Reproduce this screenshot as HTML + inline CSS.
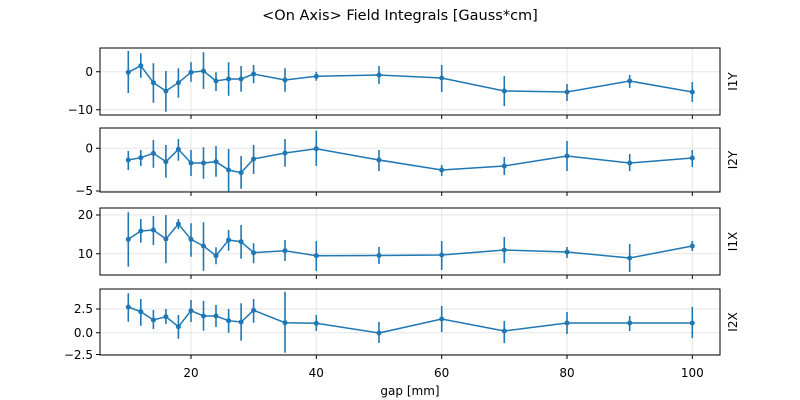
<!DOCTYPE html>
<html><head><meta charset="utf-8"><style>body{margin:0;background:#fff}svg{display:block}text{font-family:"DejaVu Sans","Liberation Sans",sans-serif;fill:#000}</style></head><body>
<svg width="800" height="400" viewBox="0 0 800 400" xmlns="http://www.w3.org/2000/svg">
<text x="400" y="20" font-size="14.5" text-anchor="middle">&lt;On Axis&gt; Field Integrals [Gauss*cm]</text>
<g stroke="#e6e6e6" stroke-width="1">
<line x1="191" y1="48" x2="191" y2="115"/><line x1="316.3" y1="48" x2="316.3" y2="115"/><line x1="441.7" y1="48" x2="441.7" y2="115"/><line x1="567" y1="48" x2="567" y2="115"/><line x1="692.3" y1="48" x2="692.3" y2="115"/>
<line x1="100" y1="71.7" x2="720" y2="71.7"/><line x1="100" y1="109.7" x2="720" y2="109.7"/>
<line x1="191" y1="128" x2="191" y2="192"/><line x1="316.3" y1="128" x2="316.3" y2="192"/><line x1="441.7" y1="128" x2="441.7" y2="192"/><line x1="567" y1="128" x2="567" y2="192"/><line x1="692.3" y1="128" x2="692.3" y2="192"/>
<line x1="100" y1="148.3" x2="720" y2="148.3"/><line x1="100" y1="191" x2="720" y2="191"/>
<line x1="191" y1="208" x2="191" y2="275"/><line x1="316.3" y1="208" x2="316.3" y2="275"/><line x1="441.7" y1="208" x2="441.7" y2="275"/><line x1="567" y1="208" x2="567" y2="275"/><line x1="692.3" y1="208" x2="692.3" y2="275"/>
<line x1="100" y1="215" x2="720" y2="215"/><line x1="100" y1="253.7" x2="720" y2="253.7"/>
<line x1="191" y1="289" x2="191" y2="355"/><line x1="316.3" y1="289" x2="316.3" y2="355"/><line x1="441.7" y1="289" x2="441.7" y2="355"/><line x1="567" y1="289" x2="567" y2="355"/><line x1="692.3" y1="289" x2="692.3" y2="355"/>
<line x1="100" y1="309" x2="720" y2="309"/><line x1="100" y1="332.7" x2="720" y2="332.7"/><line x1="100" y1="354.5" x2="720" y2="354.5"/>
</g>
<g fill="none" stroke="#000" stroke-width="1">
<rect x="100" y="48" width="620" height="67"/><rect x="100" y="128" width="620" height="64"/><rect x="100" y="208" width="620" height="67"/><rect x="100" y="289" width="620" height="66"/>
<path d="M96 71.7H100M96 109.7H100M96 148.3H100M96 191H100M96 215H100M96 253.7H100M96 309H100M96 332.7H100M96 354.5H100"/>
<path d="M191 115v4M316.3 115v4M441.7 115v4M567 115v4M692.3 115v4M191 192v4M316.3 192v4M441.7 192v4M567 192v4M692.3 192v4M191 275v4M316.3 275v4M441.7 275v4M567 275v4M692.3 275v4M191 355v4M316.3 355v4M441.7 355v4M567 355v4M692.3 355v4"/>
</g>
<g font-size="12" text-anchor="end">
<text x="93" y="76">0</text><text x="93" y="114">−10</text>
<text x="93" y="152.5">0</text><text x="93" y="195">−5</text>
<text x="93" y="219">20</text><text x="93" y="258">10</text>
<text x="93" y="313">2.5</text><text x="93" y="337">0.0</text><text x="93" y="359">−2.5</text>
</g>
<g font-size="12" text-anchor="middle">
<text x="191" y="377">20</text><text x="316.3" y="377">40</text><text x="441.7" y="377">60</text><text x="567" y="377">80</text><text x="692.3" y="377">100</text>
<text x="410" y="395">gap [mm]</text>
</g>
<g font-size="12" text-anchor="middle">
<text transform="translate(737,81.5) rotate(-90)">I1Y</text>
<text transform="translate(737,160) rotate(-90)">I2Y</text>
<text transform="translate(737,241.5) rotate(-90)">I1X</text>
<text transform="translate(737,322) rotate(-90)">I2X</text>
</g>
<g stroke="#1f77b4" stroke-width="1.6" fill="none">
<path d="M128.3 51V93M140.8 53.3V77.7M153.4 63.3V102.7M165.9 71V111.7M178.4 68.3V97.7M191 62.3V81.7M203.5 52.3V89M216 72.3V91M228.6 62.3V95.7M241.1 66V91.7M253.6 65V83.3M285 68.3V91.7M316.3 71.7V80.7M379 66V84M441.7 65V92M504.3 76V106M567 84V101M629.7 75V88M692.3 82V102"/>
<path d="M128.3 151V170M140.8 150V166M153.4 140V167.7M165.9 145V177.7M178.4 139V160.7M191 150V176M203.5 147.3V178.7M216 146V176.7M228.6 149V191.7M241.1 156V188.7M253.6 145V174M285 139V166.7M316.3 130.7V166M379 150V171M441.7 165V176M504.3 157V175M567 141V171M629.7 154V171M692.3 150V167"/>
<path d="M128.3 212.3V266.7M140.8 219V242.7M153.4 216V245M165.9 215V263.3M178.4 219V229.3M191 223.3V256.7M203.5 222.3V270.7M216 247.3V264.3M228.6 230V250.7M241.1 225V258.7M253.6 243.3V263.3M285 240V261M316.3 241V271M379 247V264M441.7 241V270M504.3 237V263M567 247V258M629.7 244V272M692.3 241V251"/>
<path d="M128.3 293.3V321.7M140.8 299V325.7M153.4 310V329M165.9 309V324M178.4 315V338.7M191 300V322M203.5 301V330.7M216 305V327M228.6 309V332.7M241.1 303.3V340.7M253.6 299V322.7M285 291.7V352.7M316.3 315V331M379 322V343M441.7 306V332M504.3 321V343M567 312V334M629.7 316V331M692.3 307V338"/>
<g stroke-width="1.5">
<polyline points="128.3,72.3 140.8,65.7 153.4,82.7 165.9,91 178.4,82.7 191,72.3 203.5,71 216,81 228.6,79 241.1,79 253.6,74 285,80 316.3,76.3 379,75 441.7,78 504.3,91 567,92 629.7,81 692.3,92"/>
<polyline points="128.3,160 140.8,157.7 153.4,153.3 165.9,161.7 178.4,149.3 191,163 203.5,163 216,161.7 228.6,170 241.1,172.7 253.6,159 285,153 316.3,148.7 379,160 441.7,170 504.3,166 567,156 629.7,163 692.3,158"/>
<polyline points="128.3,239.3 140.8,231 153.4,230 165.9,239 178.4,224 191,239.3 203.5,246 216,255.7 228.6,240 241.1,241.7 253.6,252.7 285,250.7 316.3,255.7 379,255.5 441.7,255 504.3,250 567,252 629.7,258 692.3,246"/>
<polyline points="128.3,307 140.8,311.7 153.4,320 165.9,316.7 178.4,326.7 191,310.7 203.5,316 216,316 228.6,320.7 241.1,322 253.6,310.3 285,322.7 316.3,323.3 379,333 441.7,319 504.3,331 567,323 629.7,323 692.3,323"/>
</g>
</g>
<g fill="#1f77b4">
<circle cx="128.3" cy="72.3" r="2.5"/><circle cx="140.8" cy="65.7" r="2.5"/><circle cx="153.4" cy="82.7" r="2.5"/><circle cx="165.9" cy="91" r="2.5"/><circle cx="178.4" cy="82.7" r="2.5"/><circle cx="191" cy="72.3" r="2.5"/><circle cx="203.5" cy="71" r="2.5"/><circle cx="216" cy="81" r="2.5"/><circle cx="228.6" cy="79" r="2.5"/><circle cx="241.1" cy="79" r="2.5"/><circle cx="253.6" cy="74" r="2.5"/><circle cx="285" cy="80" r="2.5"/><circle cx="316.3" cy="76.3" r="2.5"/><circle cx="379" cy="75" r="2.5"/><circle cx="441.7" cy="78" r="2.5"/><circle cx="504.3" cy="91" r="2.5"/><circle cx="567" cy="92" r="2.5"/><circle cx="629.7" cy="81" r="2.5"/><circle cx="692.3" cy="92" r="2.5"/>
<circle cx="128.3" cy="160" r="2.5"/><circle cx="140.8" cy="157.7" r="2.5"/><circle cx="153.4" cy="153.3" r="2.5"/><circle cx="165.9" cy="161.7" r="2.5"/><circle cx="178.4" cy="149.3" r="2.5"/><circle cx="191" cy="163" r="2.5"/><circle cx="203.5" cy="163" r="2.5"/><circle cx="216" cy="161.7" r="2.5"/><circle cx="228.6" cy="170" r="2.5"/><circle cx="241.1" cy="172.7" r="2.5"/><circle cx="253.6" cy="159" r="2.5"/><circle cx="285" cy="153" r="2.5"/><circle cx="316.3" cy="148.7" r="2.5"/><circle cx="379" cy="160" r="2.5"/><circle cx="441.7" cy="170" r="2.5"/><circle cx="504.3" cy="166" r="2.5"/><circle cx="567" cy="156" r="2.5"/><circle cx="629.7" cy="163" r="2.5"/><circle cx="692.3" cy="158" r="2.5"/>
<circle cx="128.3" cy="239.3" r="2.5"/><circle cx="140.8" cy="231" r="2.5"/><circle cx="153.4" cy="230" r="2.5"/><circle cx="165.9" cy="239" r="2.5"/><circle cx="178.4" cy="224" r="2.5"/><circle cx="191" cy="239.3" r="2.5"/><circle cx="203.5" cy="246" r="2.5"/><circle cx="216" cy="255.7" r="2.5"/><circle cx="228.6" cy="240" r="2.5"/><circle cx="241.1" cy="241.7" r="2.5"/><circle cx="253.6" cy="252.7" r="2.5"/><circle cx="285" cy="250.7" r="2.5"/><circle cx="316.3" cy="255.7" r="2.5"/><circle cx="379" cy="255.5" r="2.5"/><circle cx="441.7" cy="255" r="2.5"/><circle cx="504.3" cy="250" r="2.5"/><circle cx="567" cy="252" r="2.5"/><circle cx="629.7" cy="258" r="2.5"/><circle cx="692.3" cy="246" r="2.5"/>
<circle cx="128.3" cy="307" r="2.5"/><circle cx="140.8" cy="311.7" r="2.5"/><circle cx="153.4" cy="320" r="2.5"/><circle cx="165.9" cy="316.7" r="2.5"/><circle cx="178.4" cy="326.7" r="2.5"/><circle cx="191" cy="310.7" r="2.5"/><circle cx="203.5" cy="316" r="2.5"/><circle cx="216" cy="316" r="2.5"/><circle cx="228.6" cy="320.7" r="2.5"/><circle cx="241.1" cy="322" r="2.5"/><circle cx="253.6" cy="310.3" r="2.5"/><circle cx="285" cy="322.7" r="2.5"/><circle cx="316.3" cy="323.3" r="2.5"/><circle cx="379" cy="333" r="2.5"/><circle cx="441.7" cy="319" r="2.5"/><circle cx="504.3" cy="331" r="2.5"/><circle cx="567" cy="323" r="2.5"/><circle cx="629.7" cy="323" r="2.5"/><circle cx="692.3" cy="323" r="2.5"/>
</g>
</svg>
</body></html>
